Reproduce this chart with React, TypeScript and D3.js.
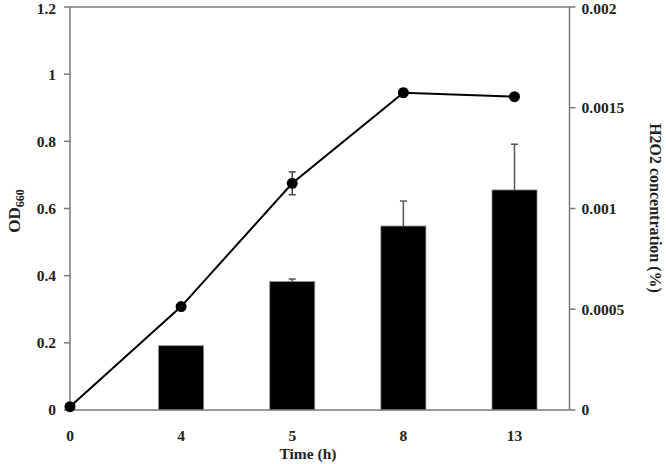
import React from "react";
import * as d3 from "d3";

const categories = ["0", "4", "5", "8", "13"];
const odValues = [0.01, 0.308, 0.675, 0.945, 0.933];
const odErrors = [0, 0, 0.034, 0.012, 0];
const h2o2Values = [0, 0.000319, 0.000637, 0.000913, 0.001092];
const h2o2Errors = [0, 0, 0.000013, 0.000124, 0.000227];
const leftTicks = [0, 0.2, 0.4, 0.6, 0.8, 1, 1.2];
const rightTicks = [0, 0.0005, 0.001, 0.0015, 0.002];

const W = 666;
const H = 464;
const left = 70;
const right = 569.5;
const top = 7;
const bottom = 410;

export default function App() {
  const x = d3.scalePoint<string>().domain(categories).range([70, 514.5]);
  const yL = d3.scaleLinear().domain([0, 1.2]).range([bottom, top]);
  const yR = d3.scaleLinear().domain([0, 0.002]).range([bottom, top]);
  const barW = 45;
  const font = "'Liberation Serif', 'Times New Roman', serif";
  const axisColor = "#7a7a7a";
  const line = d3
    .line<number>()
    .x((_, i) => x(categories[i]) as number)
    .y((d) => yL(d));

  return (
    <svg
      width={W}
      height={H}
      style={{ position: "absolute", left: 0, top: 0, background: "#fff" }}
      fontFamily={font}
      fontWeight="bold"
    >
      {/* bars */}
      {h2o2Values.map((v, i) =>
        v > 0 ? (
          <rect
            key={"b" + i}
            x={(x(categories[i]) as number) - barW / 2}
            y={yR(v)}
            width={barW}
            height={bottom - yR(v)}
            fill="#000"
            stroke="#888"
            strokeWidth={0.8}
          />
        ) : null
      )}
      {/* bar error bars (upper only) */}
      {h2o2Values.map((v, i) =>
        h2o2Errors[i] > 0 ? (
          <g key={"be" + i} stroke="#555" strokeWidth={1.5}>
            <line
              x1={x(categories[i]) as number}
              x2={x(categories[i]) as number}
              y1={yR(v)}
              y2={yR(v + h2o2Errors[i])}
            />
            <line
              x1={(x(categories[i]) as number) - 3.5}
              x2={(x(categories[i]) as number) + 3.5}
              y1={yR(v + h2o2Errors[i])}
              y2={yR(v + h2o2Errors[i])}
            />
          </g>
        ) : null
      )}
      {/* frame */}
      <g stroke={axisColor} strokeWidth={1.5} fill="none">
        <line x1={left} x2={left} y1={top} y2={bottom} />
        <line x1={right} x2={right} y1={top} y2={bottom} />
        <line x1={left} x2={right} y1={bottom} y2={bottom} />
        <line x1={left} x2={right} y1={top} y2={top} />
      </g>
      {/* left ticks */}
      {leftTicks.map((t) => (
        <g key={"lt" + t}>
          <line x1={left - 6} x2={left} y1={yL(t)} y2={yL(t)} stroke={axisColor} strokeWidth={1.5} />
          <text x={left - 14} y={Math.max(yL(t), 9)} dy="0.35em" textAnchor="end" fontSize={15.5} fill="#222">
            {String(t)}
          </text>
        </g>
      ))}
      {/* right ticks */}
      {rightTicks.map((t) => (
        <g key={"rt" + t}>
          <line x1={right} x2={right + 6} y1={yR(t)} y2={yR(t)} stroke={axisColor} strokeWidth={1.5} />
          <text x={right + 12} y={Math.max(yR(t), 9)} dy="0.35em" textAnchor="start" fontSize={15.5} fill="#222">
            {String(t)}
          </text>
        </g>
      ))}
      {/* x labels */}
      {categories.map((c) => (
        <text key={"x" + c} x={x(c) as number} y={441} textAnchor="middle" fontSize={15.5} fill="#222">
          {c}
        </text>
      ))}
      <text x={308} y={459} textAnchor="middle" fontSize={15.5} fill="#222">
        Time (h)
      </text>
      {/* y label left */}
      <text transform="translate(20,211) rotate(-90)" textAnchor="middle" fontSize={17} fill="#222">
        OD
        <tspan fontSize={12} dy={4}>660</tspan>
      </text>
      {/* y label right */}
      <text transform="translate(650,208) rotate(90)" textAnchor="middle" fontSize={16} fill="#222">
        H2O2 concentration (%)
      </text>
      {/* line */}
      <path d={line(odValues) || ""} fill="none" stroke="#000" strokeWidth={2} />
      {odValues.map((v, i) =>
        odErrors[i] > 0 ? (
          <g key={"le" + i} stroke="#444" strokeWidth={1.5}>
            <line
              x1={x(categories[i]) as number}
              x2={x(categories[i]) as number}
              y1={yL(v - odErrors[i])}
              y2={yL(v + odErrors[i])}
            />
            <line
              x1={(x(categories[i]) as number) - 3.5}
              x2={(x(categories[i]) as number) + 3.5}
              y1={yL(v + odErrors[i])}
              y2={yL(v + odErrors[i])}
            />
            <line
              x1={(x(categories[i]) as number) - 3.5}
              x2={(x(categories[i]) as number) + 3.5}
              y1={yL(v - odErrors[i])}
              y2={yL(v - odErrors[i])}
            />
          </g>
        ) : null
      )}
      {odValues.map((v, i) => (
        <circle key={"p" + i} cx={x(categories[i]) as number} cy={yL(v)} r={5.5} fill="#000" />
      ))}
    </svg>
  );
}
